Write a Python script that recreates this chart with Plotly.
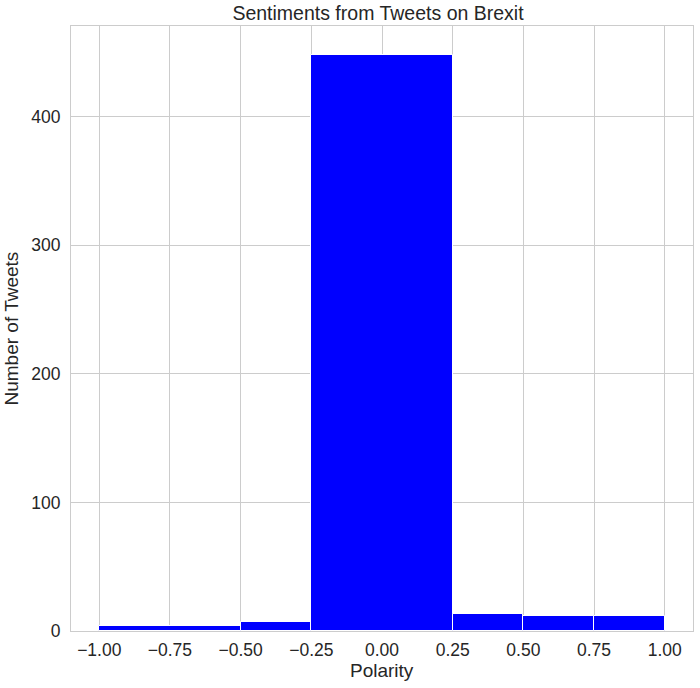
import plotly.graph_objects as go

# histogram bin edges and counts
bin_edges = [-1.0, -0.5, -0.25, 0.25, 0.5, 0.75, 1.0]
counts = [4, 7, 448, 13, 12, 12]
x_ticks = [-1.0, -0.75, -0.5, -0.25, 0.0, 0.25, 0.5, 0.75, 1.0]
y_ticks = [0, 100, 200, 300, 400]

centers = [(bin_edges[i] + bin_edges[i + 1]) / 2 for i in range(len(counts))]
widths = [bin_edges[i + 1] - bin_edges[i] for i in range(len(counts))]

fig = go.Figure(go.Bar(
    x=centers, y=counts, width=widths,
    marker=dict(color="#0000ff", line=dict(color="white", width=1)),
))

W, H = 700, 688
fig.update_layout(
    width=W, height=H,
    margin=dict(l=71, r=7, t=26, b=57),
    paper_bgcolor="white", plot_bgcolor="white",
    font=dict(family="Liberation Sans, Arial, sans-serif", size=17.5, color="#262626"),
    title=dict(text="Sentiments from Tweets on Brexit", x=378 / W, xanchor="center",
               y=1 - 13 / H, yanchor="middle", font=dict(size=19.5)),
    showlegend=False, bargap=0,
)
fig.update_xaxes(
    range=[-1.1, 1.1], tickvals=x_ticks, tickformat=".2f",
    showgrid=True, gridcolor="#cccccc", gridwidth=1.2,
    showline=True, linecolor="#cccccc", linewidth=1.2, mirror=True, zeroline=False,
    ticks="", ticklabelstandoff=3, automargin=False,
)
fig.update_yaxes(
    range=[0, 470.4], tickvals=y_ticks,
    showgrid=True, gridcolor="#cccccc", gridwidth=1.2,
    showline=True, linecolor="#cccccc", linewidth=1.2, mirror=True, zeroline=False,
    ticks="", ticklabelstandoff=6, automargin=False,
)

# axis titles placed as in the reference
fig.add_annotation(text="Polarity", xref="paper", yref="paper",
                   x=0.5, y=-39 / 605, xanchor="center", yanchor="middle",
                   showarrow=False, font=dict(size=19))
fig.add_annotation(text="Number of Tweets", xref="paper", yref="paper",
                   x=-60 / 622, y=0.5, xanchor="center", yanchor="middle",
                   textangle=-90, showarrow=False, font=dict(size=19))

# drop the page's default body margin so the figure starts at the corner
fig.write_html("out.html", config={"displayModeBar": False},
               post_script="document.body.style.margin = '0';")
